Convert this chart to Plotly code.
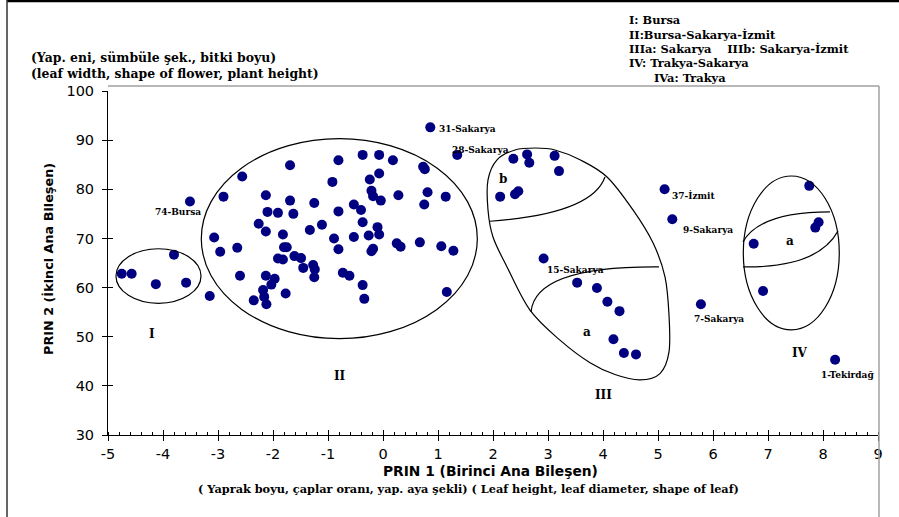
import plotly.graph_objects as go

# ---- PCA scores (PRIN 1, PRIN 2) of the accessions ----
# Group I (Bursa)
g1_x = [-4.75, -4.57, -4.13, -3.58, -3.80]
g1_y = [62.8, 62.8, 60.7, 61.0, 66.7]

# Group II (Bursa-Sakarya-Izmit)
g2_x = [-2.90, -2.56, -3.07, -2.96, -2.65, -2.60, -2.13, -1.69, -1.69, -2.10,
        -1.91, -1.63, -2.26, -2.13, -1.82, -1.33, -1.11, -1.25, -0.81, -0.92,
        -0.81, -0.53, -0.40, -0.37, -0.07, 0.18, -0.07, -0.24, -0.21, -0.18,
        -0.04, 0.28, -0.37, -0.10, -0.07, -0.26, -0.53, -0.89, -0.81, -0.18,
        -0.21, 0.25, 0.32, -1.80, -1.75, -1.91, -1.82, -1.61, -1.49, -1.45,
        -1.27, -1.24, -1.25, -0.73, -0.61, -0.37, -0.34, -2.13, -1.97, -2.03,
        -2.18, -2.16, -2.35, -2.12, -1.77, 0.73, 0.76, 0.81, 1.14, 0.75,
        0.67, 1.06, 1.28, 1.16]
g2_y = [78.5, 82.6, 70.2, 67.3, 68.1, 62.4, 78.8, 84.9, 77.7, 75.4,
        75.2, 75.0, 73.0, 71.4, 70.8, 71.7, 72.8, 77.2, 85.9, 81.5,
        75.5, 76.9, 75.8, 87.0, 87.0, 85.9, 83.2, 82.0, 79.7, 78.6,
        77.7, 78.8, 73.3, 72.3, 70.8, 70.6, 70.3, 70.0, 67.8, 67.9,
        67.4, 69.0, 68.3, 68.2, 68.2, 65.9, 65.7, 66.4, 66.0, 64.0,
        64.6, 63.7, 62.1, 63.0, 62.4, 60.5, 57.7, 62.4, 61.8, 60.6,
        59.5, 58.1, 57.4, 56.6, 58.8, 84.6, 84.1, 79.4, 78.5, 76.9,
        69.2, 68.4, 67.5, 59.1]

# Group IIIa (Sakarya) and IIIb (Sakarya-Izmit)
g3a_x = [3.53, 3.89, 4.08, 4.30, 4.19, 4.38, 4.60]
g3a_y = [61.0, 59.9, 57.1, 55.2, 49.5, 46.7, 46.4]
g3b_x = [2.37, 2.62, 2.66, 3.12, 3.20, 2.13, 2.40, 2.46]
g3b_y = [86.2, 87.1, 85.4, 86.8, 83.7, 78.5, 79.0, 79.6]

# Group IV (Trakya-Sakarya)
g4_x = [7.75, 7.92, 7.86, 6.74, 6.91]
g4_y = [80.7, 73.3, 72.2, 68.9, 59.3]

# Unassigned accession
other_x = [-3.15]
other_y = [58.3]

# Named accessions
named = ["74-Bursa", "31-Sakarya", "28-Sakarya", "37-İzmit", "9-Sakarya",
         "7-Sakarya", "15-Sakarya", "1-Tekirdağ"]
named_x = [-3.51, 0.86, 1.35, 5.12, 5.26, 5.78, 2.92, 8.22]
named_y = [77.5, 92.6, 87.0, 80.0, 73.9, 56.6, 65.9, 45.3]

x_ticks = list(range(-5, 10))
y_ticks = list(range(30, 101, 10))

# ---- page geometry ----
W, H = 899, 517
ML, MR, MT, MB = 108, 21, 91, 82
PW, PH = W - ML - MR, H - MT - MB

def paper_x(px):
    return (px - ML) / PW

def paper_y(py):
    return (H - MB - py) / PH

DOT = "#000080"
SERIF = "DejaVu Serif"
SANS = "DejaVu Sans"

fig = go.Figure()
for xs, ys in [(g1_x, g1_y), (g2_x, g2_y), (g3a_x, g3a_y), (g3b_x, g3b_y),
               (g4_x, g4_y), (other_x, other_y), (named_x, named_y)]:
    fig.add_trace(go.Scatter(x=xs, y=ys, mode="markers",
                             marker=dict(color=DOT, size=10, line=dict(width=0)),
                             showlegend=False, hoverinfo="skip"))
# companion axes for the inward half of the crossing tick marks
fig.add_trace(go.Scatter(x=[], y=[], xaxis="x2", yaxis="y2", showlegend=False))


def smooth_closed(xs, ys):
    n = len(xs)
    p = list(zip(xs, ys))
    d = f"M {p[0][0]},{p[0][1]}"
    for i in range(n):
        p0, p1, p2, p3 = p[i - 1], p[i], p[(i + 1) % n], p[(i + 2) % n]
        c1 = (p1[0] + (p2[0] - p0[0]) / 6, p1[1] + (p2[1] - p0[1]) / 6)
        c2 = (p2[0] - (p3[0] - p1[0]) / 6, p2[1] - (p3[1] - p1[1]) / 6)
        d += f" C {c1[0]},{c1[1]} {c2[0]},{c2[1]} {p2[0]},{p2[1]}"
    return d + " Z"


line = dict(color="black", width=1.2)
shapes = [
    dict(type="circle", xref="x", yref="y", x0=-4.855, x1=-3.309, y0=56.8, y1=67.9, line=line),
    dict(type="circle", xref="x", yref="y", x0=-3.304, x1=1.715, y0=49.6, y1=90.3, line=line),
    dict(type="circle", xref="x", yref="y", x0=6.551, x1=8.296, y0=51.4, y1=82.7, line=line),
]
# group III outline
g3_outline_x = [1.909, 2.073, 2.40, 2.764, 3.127, 3.582, 4.073, 4.545, 4.909, 5.127,
                5.20, 5.20, 5.036, 4.673, 4.218, 3.764, 3.218, 2.673, 2.255, 2.0, 1.909]
g3_outline_y = [81.9, 86.0, 88.0, 88.4, 88.0, 86.0, 82.5, 75.8, 69.1, 62.2,
                54.4, 46.9, 42.5, 41.2, 42.3, 44.7, 49.3, 55.4, 64.2, 70.3, 75.8]
shapes.append(dict(type="path", xref="x", yref="y",
                   path=smooth_closed(g3_outline_x, g3_outline_y), line=line))
# subgroup dividers
for d in ["M 1.945,73.5 Q 3.8,75.0 4.036,82.5",
          "M 2.691,55.0 Q 2.764,64.4 5.018,64.2",
          "M 6.545,69.3 Q 6.855,75.4 8.127,75.4",
          "M 6.545,64.2 Q 7.909,64.0 8.273,71.5"]:
    shapes.append(dict(type="path", xref="x", yref="y", path=d, line=line))

# page frame
shapes += [
    dict(type="line", xref="paper", yref="paper", x0=paper_x(7), x1=paper_x(W),
         y0=paper_y(1), y1=paper_y(1), line=dict(color="black", width=2.5)),
    dict(type="line", xref="paper", yref="paper", x0=paper_x(7), x1=paper_x(7),
         y0=paper_y(0), y1=paper_y(H), line=dict(color="#333333", width=1.5)),
    dict(type="line", xref="paper", yref="paper", x0=paper_x(ML), x1=paper_x(879),
         y0=paper_y(86), y1=paper_y(86), line=dict(color="#a0a0a0", width=1.5)),
    dict(type="line", xref="paper", yref="paper", x0=paper_x(879), x1=paper_x(879),
         y0=paper_y(86), y1=paper_y(H), line=dict(color="#a0a0a0", width=1.5)),
]

ann = []
# accession labels, offset from their dots
offsets = {"74-Bursa": (-12, -10, "center"), "31-Sakarya": (7, -1.5, "left"),
           "28-Sakarya": (-7, 5, "left"), "37-İzmit": (5.5, -5.5, "left"),
           "9-Sakarya": (9, -10.7, "left"), "7-Sakarya": (-9, -15, "left"),
           "15-Sakarya": (1.7, -11.3, "left"), "1-Tekirdağ": (-16, -15.3, "left")}
for name, x, y in zip(named, named_x, named_y):
    dx, dy, anchor = offsets[name]
    ann.append(dict(x=x, y=y, xref="x", yref="y", text=f"<b>{name}</b>", showarrow=False,
                    xanchor=anchor, yanchor="middle", xshift=dx, yshift=dy,
                    font=dict(family=SERIF, size=9, color="black")))

# group letters
for t, x, y in [("I", -4.2, 50.6), ("II", -0.78, 42.0), ("III", 4.0, 38.1), ("IV", 7.58, 46.6),
                ("a", 7.4, 69.5), ("a", 3.70, 51.0), ("b", 2.19, 82.0)]:
    ann.append(dict(x=x, y=y, xref="x", yref="y", text=f"<b>{t}</b>", showarrow=False,
                    xanchor="center", yanchor="middle",
                    font=dict(family=SERIF, size=12, color="black")))

# group key
key = [("I: Bursa", 627, 20), ("II:Bursa-Sakarya-İzmit", 627, 35),
       ("IIIa: Sakarya    IIIb: Sakarya-İzmit", 627, 49),
       ("IV: Trakya-Sakarya", 627, 63), ("IVa: Trakya", 652, 78)]
for t, px, py in key:
    ann.append(dict(x=paper_x(px), y=paper_y(py), xref="paper", yref="paper",
                    text=f"<b>{t}</b>".replace("    ", "&nbsp;&nbsp;&nbsp;&nbsp;"),
                    showarrow=False, xanchor="left", yanchor="middle",
                    font=dict(family=SERIF, size=11.4, color="black")))

# y-variable description
for t, py in [("(Yap. eni, sümbüle şek., bitki boyu)", 57),
              ("(leaf width, shape of flower, plant height)", 74)]:
    ann.append(dict(x=paper_x(29), y=paper_y(py), xref="paper", yref="paper",
                    text=f"<b>{t}</b>", showarrow=False, xanchor="left", yanchor="middle",
                    font=dict(family=SERIF, size=12.4, color="black")))

# axis titles
ann.append(dict(x=paper_x(490), y=paper_y(471), xref="paper", yref="paper",
                text="<b>PRIN 1 (Birinci Ana Bileşen)</b>", showarrow=False,
                xanchor="center", yanchor="middle",
                font=dict(family=SANS, size=13.8, color="black")))
ann.append(dict(x=paper_x(468), y=paper_y(489), xref="paper", yref="paper",
                text="<b>( Yaprak boyu, çaplar oranı, yap. aya şekli) ( Leaf height, leaf diameter, shape of leaf)</b>",
                showarrow=False, xanchor="center", yanchor="middle",
                font=dict(family=SERIF, size=11.3, color="black")))
ann.append(dict(x=paper_x(48), y=paper_y(259), xref="paper", yref="paper",
                text="<b>PRIN 2 (İkinci Ana Bileşen)</b>", showarrow=False, textangle=-90,
                xanchor="center", yanchor="middle",
                font=dict(family=SANS, size=12.8, color="black")))

axis_common = dict(showgrid=False, zeroline=False, showline=True, linecolor="black",
                   linewidth=1, ticks="outside", ticklen=5, tickcolor="black", tickwidth=1,
                   tickfont=dict(family=SANS, size=14.5, color="black"))
inner_common = dict(showgrid=False, zeroline=False, showline=False, ticks="inside",
                    ticklen=5, tickcolor="black", tickwidth=1, showticklabels=False)

fig.update_layout(
    width=W, height=H, margin=dict(l=ML, r=MR, t=MT, b=MB, pad=0),
    paper_bgcolor="white", plot_bgcolor="white", showlegend=False,
    xaxis=dict(range=[-5, 9], tickvals=x_ticks, ticktext=[str(v) for v in x_ticks],
               ticklabelstandoff=1,
               minor=dict(dtick=0.2, tick0=-5, ticks="inside", ticklen=3, tickcolor="black"),
               **axis_common),
    yaxis=dict(range=[30, 100], tickvals=y_ticks, ticktext=[str(v) for v in y_ticks],
               ticklabelstandoff=5, **axis_common),
    xaxis2=dict(range=[-5, 9], tickvals=x_ticks, overlaying="x", anchor="y2", **inner_common),
    yaxis2=dict(range=[30, 100], tickvals=y_ticks, overlaying="y", anchor="x2", **inner_common),
    shapes=shapes, annotations=ann,
)

fig.write_html("out.html")
